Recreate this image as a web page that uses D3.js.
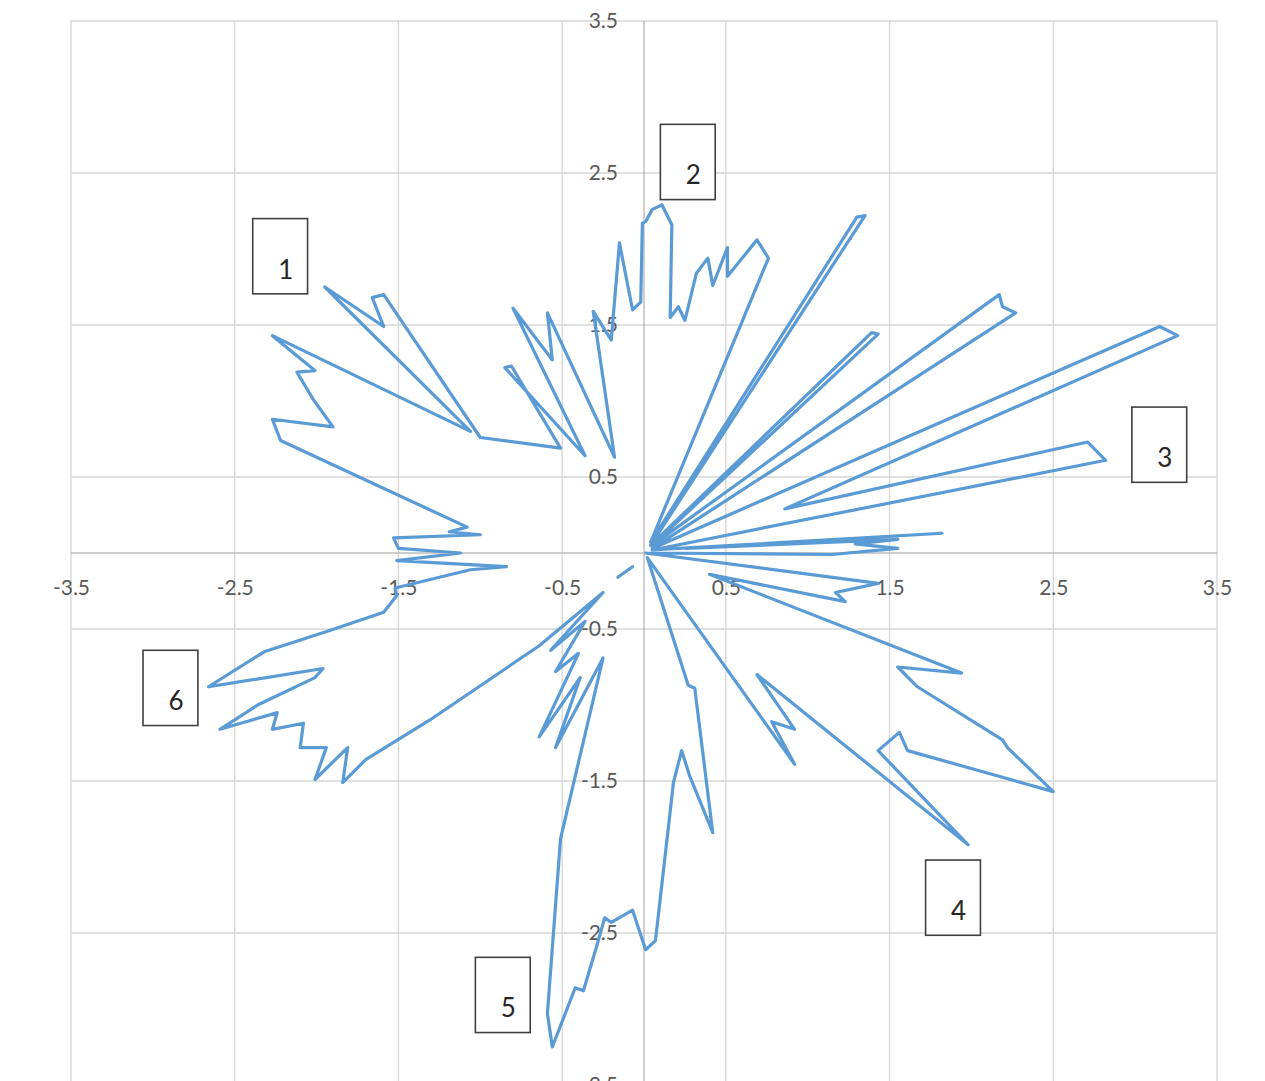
<!DOCTYPE html>
<html>
<head>
<meta charset="utf-8">
<script src="https://cdn.jsdelivr.net/npm/d3@7"></script>
<style>
  html, body { margin: 0; padding: 0; background: #ffffff; }
  svg { display: block; }
  .tick-label { font-family: Lato, "Open Sans", sans-serif; font-size: 21px; fill: #595959; }
  .box-label { font-family: Lato, "Open Sans", sans-serif; font-size: 26px; fill: #262626; }
</style>
</head>
<body>
<svg id="chart" width="1265" height="1081"></svg>
<script>
// Tick positions shared by both axes
const tickValues = [-3.5, -2.5, -1.5, -0.5, 0.5, 1.5, 2.5, 3.5];

// Traced outline, counter-clockwise starting on the positive x axis
const pathX = [
  0.01, 1.15, 1.55, 1.29, 1.55, 0.26, 1.82, 0.05,
  2.82, 2.71, 0.86, 3.26, 3.15, 0.05, 2.27, 2.19, 2.17, 0.05,
  1.43, 1.39, 0.04, 1.35, 1.30, 0.04,
  0.76, 0.69, 0.51, 0.51, 0.42, 0.39, 0.32, 0.25, 0.21, 0.16, 0.17, 0.11, 0.05, 0.01, -0.01,
  -0.02, -0.07, -0.15, -0.20, -0.31, -0.18, -0.59, -0.56, -0.80, -0.36, -0.85, -0.81, -0.51,
  -1.00, -1.59, -1.66, -1.59, -1.95, -1.06, -2.27, -2.01, -2.12, -2.02, -1.90, -2.27, -2.22,
  -1.08, -1.19, -1.00, -1.53, -1.50, -1.12, -1.51, -0.84, -1.06, -1.52,
  -1.51, -1.59, -1.92, -2.32, -2.66, -1.96, -2.01, -2.36, -2.59, -2.24, -2.27, -2.08, -2.10,
  -1.94, -2.01, -1.81, -1.84, -1.70, -1.31, -0.64, -0.25,
  -0.57, -0.36, -0.54, -0.40, -0.64, -0.39, -0.54, -0.25,
  -0.51, -0.59, -0.56, -0.42, -0.37, -0.29, -0.24, -0.20, -0.07, 0.01, 0.07,
  0.18, 0.23, 0.28, 0.42, 0.31, 0.27, 0.02,
  0.92, 0.78, 0.92, 0.69, 1.98, 1.43, 1.56, 1.61, 2.50, 2.22, 2.19, 1.67, 1.55, 1.94,
  0.40, 1.23, 1.17, 1.43, 0.01
];
const pathY = [
  0.00, -0.01, 0.03, 0.06, 0.09, 0.03, 0.13, 0.02,
  0.61, 0.73, 0.29, 1.43, 1.49, 0.03, 1.58, 1.62, 1.70, 0.05,
  1.44, 1.45, 0.05, 2.22, 2.21, 0.07,
  1.94, 2.06, 1.82, 2.01, 1.76, 1.94, 1.84, 1.53, 1.62, 1.55, 2.16, 2.29, 2.26, 2.18, 2.17,
  1.65, 1.60, 2.04, 1.40, 1.59, 0.63, 1.58, 1.27, 1.61, 0.64, 1.22, 1.23, 0.69,
  0.76, 1.70, 1.68, 1.49, 1.75, 0.80, 1.43, 1.20, 1.19, 1.01, 0.83, 0.88, 0.74,
  0.17, 0.14, 0.12, 0.10, 0.03, 0.00, -0.05, -0.09, -0.11, -0.23,
  -0.28, -0.39, -0.51, -0.65, -0.88, -0.76, -0.82, -1.00, -1.16, -1.05, -1.16, -1.12, -1.28,
  -1.28, -1.49, -1.28, -1.51, -1.36, -1.10, -0.61, -0.26,
  -0.64, -0.45, -0.78, -0.66, -1.21, -0.82, -1.28, -0.69,
  -1.88, -3.03, -3.25, -2.86, -2.88, -2.59, -2.40, -2.43, -2.35, -2.61, -2.55,
  -1.51, -1.30, -1.47, -1.84, -0.89, -0.87, -0.03,
  -1.39, -1.11, -1.16, -0.80, -1.92, -1.30, -1.18, -1.30, -1.57, -1.28, -1.23, -0.88, -0.75, -0.79,
  -0.14, -0.32, -0.26, -0.20, 0.00
];

// Short detached stroke just below-left of the origin
const stubX = [-0.16, -0.07];
const stubY = [-0.16, -0.09];

// Numbered call-out boxes: top-left corner in data units
const boxLabels = ["1", "2", "3", "4", "5", "6"];
const boxX = [-2.39, 0.10, 2.98, 1.72, -1.03, -3.06];
const boxY = [2.20, 2.82, 0.96, -2.02, -2.66, -0.64];
const boxW = 0.335; // width in x units
const boxH = 0.495; // height in y units

const svg = d3.select("#chart");
const x = d3.scaleLinear().domain([-3.5, 3.5]).range([71, 1217]);
const y = d3.scaleLinear().domain([-3.5, 3.5]).range([1085, 21]);

// Gridlines
const grid = svg.append("g");
grid.selectAll("line.v").data(tickValues).join("line")
  .attr("x1", d => x(d)).attr("x2", d => x(d))
  .attr("y1", y(3.5)).attr("y2", y(-3.5))
  .attr("stroke", "#d6d6d6").attr("stroke-width", 1.3);
grid.selectAll("line.h").data(tickValues).join("line")
  .attr("y1", d => y(d)).attr("y2", d => y(d))
  .attr("x1", x(-3.5)).attr("x2", x(3.5))
  .attr("stroke", "#d6d6d6").attr("stroke-width", 1.3);

// Axes crossing at the origin
const xAxis = d3.axisBottom(x).tickValues(tickValues).tickSize(0)
  .tickFormat(d => String(d));
const yAxis = d3.axisLeft(y).tickValues(tickValues).tickSize(0).tickPadding(26)
  .tickFormat(d => String(d));

const gx = svg.append("g").attr("transform", `translate(0,${y(0)})`).call(xAxis);
const gy = svg.append("g").attr("transform", `translate(${x(0)},0)`).call(yAxis);
[gx, gy].forEach(g => {
  g.select(".domain").attr("stroke", "#bcbcbc").attr("stroke-width", 1.4);
  g.selectAll(".tick text").attr("class", "tick-label").attr("font-family", null).attr("font-size", null);
});
gx.selectAll(".tick text").attr("dy", "0.35em").attr("y", 35);
gx.select(".domain").attr("d", `M${x(-3.5)},0H${x(3.5)}`);
gy.select(".domain").attr("d", `M0,${y(3.5)}V${y(-3.5)}`);

// Outline
const line = d3.line().x(d => x(d[0])).y(d => y(d[1]));
const series = [
  pathX.map((v, i) => [v, pathY[i]]),
  stubX.map((v, i) => [v, stubY[i]])
];
svg.append("g").selectAll("path").data(series).join("path")
  .attr("d", line)
  .attr("fill", "none")
  .attr("stroke", "#5b9bd5")
  .attr("stroke-width", 3.2)
  .attr("stroke-linejoin", "round")
  .attr("stroke-linecap", "round");

// Call-out boxes
const boxes = svg.append("g").selectAll("g").data(boxLabels).join("g");
boxes.append("rect")
  .attr("x", (d, i) => x(boxX[i]))
  .attr("y", (d, i) => y(boxY[i]))
  .attr("width", (d, i) => x(boxX[i] + boxW) - x(boxX[i]))
  .attr("height", (d, i) => y(boxY[i] - boxH) - y(boxY[i]))
  .attr("fill", "#ffffff")
  .attr("stroke", "#404040")
  .attr("stroke-width", 1.6);
boxes.append("text")
  .attr("class", "box-label")
  .attr("x", (d, i) => x(boxX[i]) + 33)
  .attr("y", (d, i) => y(boxY[i]) + 60)
  .attr("text-anchor", "middle")
  .text(d => d);
</script>
</body>
</html>
